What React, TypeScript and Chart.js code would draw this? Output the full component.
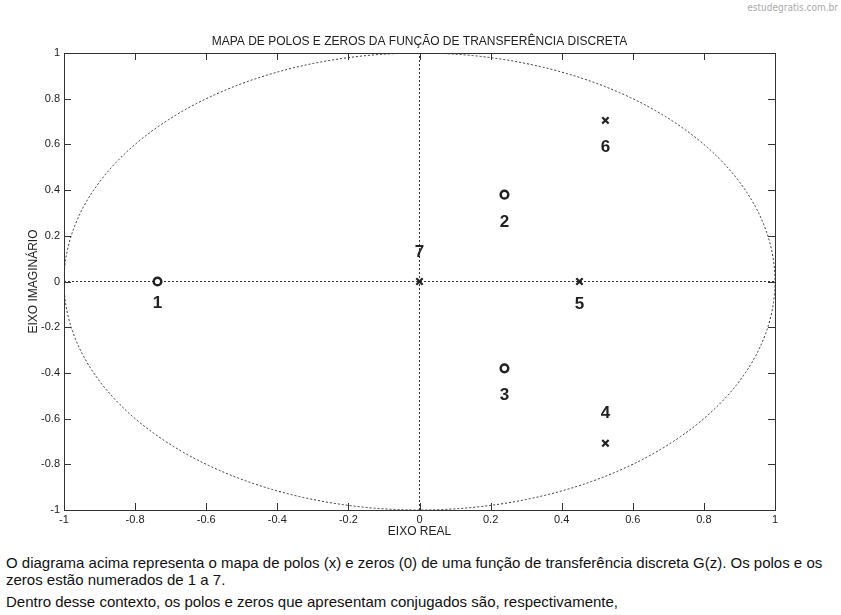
import React, { useEffect, useRef } from "react";
import { Chart, registerables } from "chart.js";

Chart.register(...registerables);

// Zeros (o)
const zeroReal = [-0.737, 0.239, 0.239];
const zeroImag = [0, 0.38, -0.38];
const zeroLabels = ["1", "2", "3"];
const zeroLabelOffset = [22, 28, 27];

// Poles (x)
const poleReal = [0.523, 0.45, 0.523, 0];
const poleImag = [-0.708, 0, 0.705, 0];
const poleLabels = ["4", "5", "6", "7"];
const poleLabelOffset = [-30, 23, 27, -29];

// Axis lines (dotted)
const realAxisX = [-1, 1];
const realAxisY = [0, 0];
const imagAxisX = [0, 0];
const imagAxisY = [-1, 1];

const axisMin = -1;
const axisMax = 1;
const tickStep = 0.2;

const titleText = "MAPA DE POLOS E ZEROS DA FUNÇÃO DE TRANSFERÊNCIA DISCRETA";
const xTitle = "EIXO REAL";
const yTitle = "EIXO IMAGINÁRIO";

const FONT = "Arial, 'Liberation Sans', Helvetica, sans-serif";
const INK = "#222";

const unitCirclePlugin = {
  id: "unitCircle",
  beforeDatasetsDraw(chart: any) {
    const { ctx, chartArea, scales } = chart;
    const cx = scales.x.getPixelForValue(0);
    const cy = scales.y.getPixelForValue(0);
    const rx = scales.x.getPixelForValue(1) - cx;
    const ry = cy - scales.y.getPixelForValue(1);
    ctx.save();
    ctx.beginPath();
    ctx.rect(chartArea.left, chartArea.top, chartArea.right - chartArea.left, chartArea.bottom - chartArea.top);
    ctx.clip();
    ctx.beginPath();
    ctx.setLineDash([2, 2]);
    ctx.strokeStyle = "#333";
    ctx.lineWidth = 1;
    ctx.ellipse(cx, cy, rx, ry, 0, 0, Math.PI * 2);
    ctx.stroke();
    ctx.restore();
  },
};

const framePlugin = {
  id: "frame",
  afterDraw(chart: any) {
    const { ctx, chartArea, scales } = chart;
    const { left, right, top, bottom } = chartArea;
    ctx.save();
    ctx.strokeStyle = "#333";
    ctx.lineWidth = 1;
    ctx.setLineDash([]);
    ctx.strokeRect(Math.round(left) + 0.5, Math.round(top) + 0.5, Math.round(right - left), Math.round(bottom - top));
    const tl = 7;
    ctx.beginPath();
    scales.x.ticks.forEach((t: any) => {
      const px = Math.round(scales.x.getPixelForValue(t.value)) + 0.5;
      ctx.moveTo(px, bottom);
      ctx.lineTo(px, bottom - tl);
      ctx.moveTo(px, top);
      ctx.lineTo(px, top + tl);
    });
    scales.y.ticks.forEach((t: any) => {
      const py = Math.round(scales.y.getPixelForValue(t.value)) + 0.5;
      ctx.moveTo(left, py);
      ctx.lineTo(left + tl, py);
      ctx.moveTo(right, py);
      ctx.lineTo(right - tl, py);
    });
    ctx.stroke();
    // title
    ctx.fillStyle = INK;
    ctx.font = `12px ${FONT}`;
    ctx.textAlign = "center";
    ctx.textBaseline = "middle";
    ctx.fillText(titleText, (left + right) / 2, 42);
    ctx.restore();
  },
};

const pointLabelPlugin = {
  id: "pointLabels",
  afterDatasetsDraw(chart: any) {
    const { ctx } = chart;
    ctx.save();
    ctx.fillStyle = INK;
    ctx.font = `bold 17px ${FONT}`;
    ctx.textAlign = "center";
    ctx.textBaseline = "middle";
    const draw = (dsIndex: number, labels: string[], offsets: number[]) => {
      const meta = chart.getDatasetMeta(dsIndex);
      meta.data.forEach((el: any, i: number) => {
        ctx.fillText(labels[i], el.x, el.y + offsets[i]);
      });
    };
    draw(0, zeroLabels, zeroLabelOffset);
    draw(1, poleLabels, poleLabelOffset);
    ctx.restore();
  },
};

const fmtTick = (v: any) => String(Math.round(Number(v) * 10) / 10);

export default function App() {
  const ref = useRef<HTMLCanvasElement | null>(null);

  useEffect(() => {
    if (!ref.current) return;
    const toPts = (xs: number[], ys: number[]) => xs.map((x, i) => ({ x, y: ys[i] }));
    const chart = new Chart(ref.current, {
      type: "scatter",
      data: {
        datasets: [
          {
            label: "zeros",
            data: toPts(zeroReal, zeroImag),
            pointStyle: "circle",
            pointRadius: 3.8,
            pointBorderWidth: 2.5,
            borderColor: INK,
            backgroundColor: "#fff",
          },
          {
            label: "polos",
            data: toPts(poleReal, poleImag),
            pointStyle: "crossRot",
            pointRadius: 4.5,
            pointBorderWidth: 2.2,
            borderColor: INK,
            backgroundColor: INK,
          },
          {
            label: "real",
            data: toPts(realAxisX, realAxisY),
            showLine: true,
            borderDash: [2, 2],
            borderWidth: 1,
            borderColor: "#333",
            pointRadius: 0,
          },
          {
            label: "imag",
            data: toPts(imagAxisX, imagAxisY),
            showLine: true,
            borderDash: [2, 2],
            borderWidth: 1,
            borderColor: "#333",
            pointRadius: 0,
          },
        ],
      },
      options: {
        animation: false,
        responsive: false,
        devicePixelRatio: 1,
        layout: { padding: { top: 53, right: 66, left: 0, bottom: 0 } },
        plugins: {
          legend: { display: false },
          tooltip: { enabled: false },
          title: { display: false },
        },
        scales: {
          x: {
            type: "linear",
            min: axisMin,
            max: axisMax,
            grid: { display: false, drawTicks: false },
            border: { display: false },
            ticks: {
              stepSize: tickStep,
              color: INK,
              font: { family: FONT, size: 11 },
              padding: 3,
              maxRotation: 0,
              autoSkip: false,
              callback: fmtTick,
            },
            title: {
              display: true,
              text: xTitle,
              color: INK,
              font: { family: FONT, size: 12 },
              padding: { top: 0, bottom: 6 },
            },
            afterFit(scale: any) {
              scale.height = 35;
            },
          },
          y: {
            type: "linear",
            min: axisMin,
            max: axisMax,
            grid: { display: false, drawTicks: false },
            border: { display: false },
            ticks: {
              stepSize: tickStep,
              color: INK,
              font: { family: FONT, size: 11 },
              padding: 4,
              autoSkip: false,
              callback: fmtTick,
            },
            title: {
              display: true,
              text: yTitle,
              color: INK,
              font: { family: FONT, size: 12 },
              padding: { top: 26, bottom: 0 },
            },
            afterFit(scale: any) {
              scale.width = 64;
            },
          },
        },
      },
      plugins: [unitCirclePlugin, framePlugin, pointLabelPlugin],
    } as any);
    return () => chart.destroy();
  }, []);

  const textStyle: React.CSSProperties = {
    position: "absolute",
    left: 6,
    fontFamily: FONT,
    fontSize: 15,
    color: "#111",
    whiteSpace: "nowrap",
    lineHeight: "18px",
  };

  return (
    <div style={{ position: "absolute", left: 0, top: 0, width: 841, height: 615, background: "#fff", overflow: "hidden" }}>
      <div
        style={{
          position: "absolute",
          right: 3,
          top: 2,
          fontFamily: "'DejaVu Sans Condensed', 'DejaVu Sans', sans-serif",
          fontSize: 10,
          color: "#aaa",
        }}
      >
        estudegratis.com.br
      </div>
      <canvas ref={ref} width={841} height={545} style={{ position: "absolute", left: 0, top: 0 }} />
      <div style={{ ...textStyle, top: 554 }}>
        O diagrama acima representa o mapa de polos (x) e zeros (0) de uma função de transferência discreta G(z). Os polos e os
      </div>
      <div style={{ ...textStyle, top: 571 }}>zeros estão numerados de 1 a 7.</div>
      <div style={{ ...textStyle, top: 593 }}>
        Dentro desse contexto, os polos e zeros que apresentam conjugados são, respectivamente,
      </div>
    </div>
  );
}
